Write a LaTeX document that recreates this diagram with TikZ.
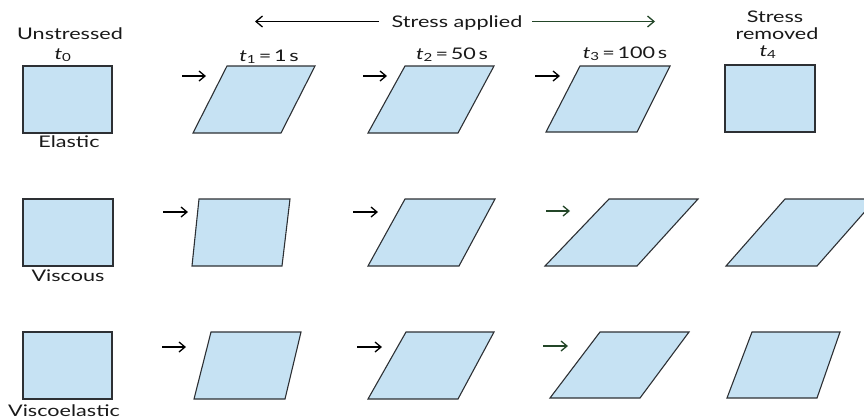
\documentclass[tikz,border=0pt]{standalone}
\usepackage{fontspec}
\usetikzlibrary{arrows.meta}
\newfontfamily\labfont[FakeStretch=1.35]{Lato}
\definecolor{gelblue}{RGB}{198,226,243}
\definecolor{edgegray}{RGB}{45,48,52}
\definecolor{darkgreen}{RGB}{35,70,40}
\newcommand\shearbox[7][]{\draw[shapebox,#1] (#2,#6) -- (#3,#6) -- (#5,#7) -- (#4,#7) -- cycle;}
\newcommand\tsub[2]{{\itshape #1}\textsubscript{#2}}
\begin{document}
\begin{tikzpicture}[x=1pt,y=-1pt,
  shapebox/.style={fill=gelblue,draw=edgegray,line width=1.1pt,line join=miter},
  lbl/.style={font=\labfont\fontsize{16}{18}\selectfont,inner sep=0pt,anchor=base,text=black!90},
  pusharrow/.style={draw=black,line width=1.3pt,-{Straight Barb[length=6pt,width=10pt,line width=1.3pt]}},
  timearrow/.style={draw=black,line width=1.3pt,-{Straight Barb[length=6.5pt,width=11pt,line width=1.3pt]}}]
\useasboundingbox (0,0) rectangle (864,418);
% header labels
\node[lbl] (unst) at (70,39) {Unstressed};
\node[lbl] (tzero) at (63,59) {\tsub{t}{0}};
\node[lbl] (tone) at (269,61) {\tsub{t}{1}\,=\,1\,s};
\node[lbl] (ttwo) at (452,59) {\tsub{t}{2}\,=\,50\,s};
\node[lbl] (tthree) at (625,58) {\tsub{t}{3}\,=\,100\,s};
\node[lbl] (sapp) at (457,27) {Stress applied};
\node[lbl] (srem1) at (775,22.5) {Stress};
\node[lbl] (srem2) at (777,39) {removed};
\node[lbl] (tfour) at (768,56) {\tsub{t}{4}};
% stress applied arrows
\coordinate (lstart) at (379,21.5);
\coordinate (lend) at (255,21.5);
\coordinate (rstart) at (532,21.5);
\coordinate (rend) at (655,21.5);
\draw[timearrow] (lstart) -- (lend);
\draw[timearrow,draw=darkgreen] (rstart) -- (rend);
% row labels
\node[lbl] (elab) at (69,147) {Elastic};
\node[lbl] (vlab) at (68,281) {Viscous};
\node[lbl] (velab) at (64,416) {Viscoelastic};
% Row 1: elastic
\shearbox{23}{112}{23}{112}{66}{133}
\shearbox{227}{315}{193}{281}{66}{133}
\shearbox{405}{494}{368}{458}{66}{133}
\shearbox{580}{670}{546}{637}{66}{132}
\shearbox{725}{815}{725}{815}{65}{132}
\coordinate (e1s) at (182,76); \coordinate (e1e) at (206,76);
\coordinate (e2s) at (363,76); \coordinate (e2e) at (387,76);
\coordinate (e3s) at (535,76); \coordinate (e3e) at (560,76);
\draw[pusharrow] (e1s) -- (e1e);
\draw[pusharrow] (e2s) -- (e2e);
\draw[pusharrow] (e3s) -- (e3e);
% Row 2: viscous
\shearbox{23}{113}{23}{113}{199}{266}
\shearbox{199}{290}{192}{282}{199}{266}
\shearbox{405}{495}{368}{459}{199}{266}
\shearbox{609}{698}{545}{637}{199}{266}
\shearbox{785}{876}{726}{817}{199}{266}
\coordinate (v1s) at (163,212); \coordinate (v1e) at (188,212);
\coordinate (v2s) at (353,212); \coordinate (v2e) at (378,212);
\coordinate (v3s) at (546,211); \coordinate (v3e) at (570,211);
\draw[pusharrow] (v1s) -- (v1e);
\draw[pusharrow] (v2s) -- (v2e);
\draw[pusharrow,draw=darkgreen] (v3s) -- (v3e);
% Row 3: viscoelastic
\shearbox{23}{112}{23}{112}{332}{399}
\shearbox{211}{301}{194}{285}{332}{399}
\shearbox{406}{494}{368}{458}{332}{399}
\shearbox{600}{689}{550}{640}{332}{398}
\shearbox{752}{840}{727}{817}{332}{398}
\coordinate (ve1s) at (162,347); \coordinate (ve1e) at (186,347);
\coordinate (ve2s) at (357,347); \coordinate (ve2e) at (382,347);
\coordinate (ve3s) at (543,346); \coordinate (ve3e) at (568,346);
\draw[pusharrow] (ve1s) -- (ve1e);
\draw[pusharrow] (ve2s) -- (ve2e);
\draw[pusharrow,draw=darkgreen] (ve3s) -- (ve3e);
\end{tikzpicture}
\end{document}
